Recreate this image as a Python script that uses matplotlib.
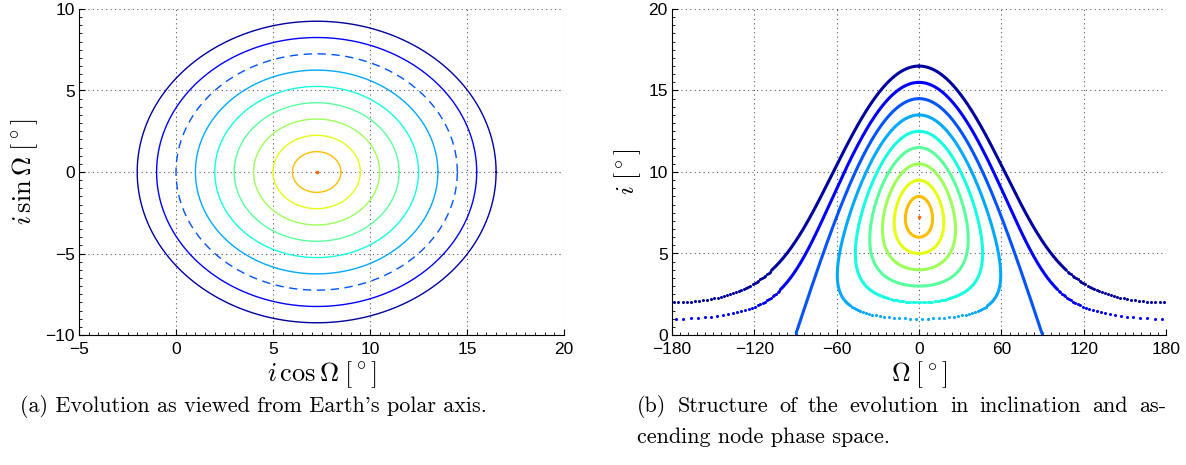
import numpy as np
import matplotlib
matplotlib.use('Agg')
import matplotlib.pyplot as plt
from matplotlib.ticker import AutoMinorLocator

# Forced equilibrium inclination (centre of all circles), degrees
center_inc = 7.25
# Radii of the free-inclination circles, outermost first
radii = [9.25, 8.25, 7.25, 6.25, 5.25, 4.25, 3.25, 2.25, 1.25]
# jet colormap positions for each circle, and for the centre point
jet_pos = [0.03, 0.12, 0.21, 0.29, 0.375, 0.46, 0.54, 0.625, 0.71]
center_pos = 0.80

left_xticks = [-5, 0, 5, 10, 15, 20]
left_yticks = [-10, -5, 0, 5, 10]
right_xticks = [-180, -120, -60, 0, 60, 120, 180]
right_yticks = [0, 5, 10, 15, 20]

caption_a = "(a) Evolution as viewed from Earth's polar axis."
caption_b1 = "(b) Structure of the evolution in inclination and as-"
caption_b2 = "cending node phase space."

plt.rcParams['mathtext.fontset'] = 'cm'
plt.rcParams['font.family'] = 'Liberation Sans'

cmap = plt.colormaps['jet']
t = np.linspace(0, 2 * np.pi, 530)

W, H = 1186, 465
fig = plt.figure(figsize=(W / 100, H / 100), dpi=100)
ax1 = fig.add_axes([79 / W, 130 / H, 485 / W, 326 / H])
ax2 = fig.add_axes([672 / W, 130 / H, 494 / W, 326 / H])

# pixel scale of the right axes, used to tell dense from sparse samples
px_x = 494 / 360
px_y = 326 / 20

for r, p in zip(radii, jet_pos):
    c = cmap(p)
    x = center_inc + r * np.cos(t)
    y = r * np.sin(t)
    if r == center_inc:
        ax1.plot(x, y, '--', color=c, lw=1.0, dashes=(6, 4))
    else:
        ax1.plot(x, y, '-', color=c, lw=1.0)

    node = np.degrees(np.arctan2(y, x))
    inc = np.hypot(x, y)
    step = np.hypot(np.diff(node) * px_x, np.diff(inc) * px_y)
    # solid line where samples are close, dots where they spread out
    ln_node = node.copy()
    gap = np.zeros(len(node), bool)
    gap[1:] = step > 2.0
    gap[:-1] |= step > 2.0
    ln_node[gap] = np.nan
    ax2.plot(ln_node, inc, '-', color=c, lw=2.2, solid_capstyle='round')
    ax2.plot(node[gap], inc[gap], 'o', color=c, ms=2.2, mew=0)

ax1.plot([center_inc], [0], 'o', color=cmap(center_pos), ms=2.6, mew=0)
ax2.plot([0], [center_inc], 'o', color=cmap(center_pos), ms=2.6, mew=0)

ax1.set_xlim(-5, 20)
ax1.set_ylim(-10, 10)
ax1.set_xticks(left_xticks)
ax1.set_yticks(left_yticks)
ax2.set_xlim(-180, 180)
ax2.set_ylim(0, 20)
ax2.set_xticks(right_xticks)
ax2.set_yticks(right_yticks)

ax1.set_xlabel(r'$i\,\cos\Omega\;[^\circ]$', fontsize=19, labelpad=2)
ax1.set_ylabel(r'$i\,\sin\Omega\;[^\circ]$', fontsize=19, labelpad=4)
ax2.set_xlabel(r'$\Omega\;[^\circ]$', fontsize=18.5, labelpad=2)
ax2.set_ylabel(r'$i\;[^\circ]$', fontsize=18.5, labelpad=4)

for ax in (ax1, ax2):
    ax.spines['top'].set_visible(False)
    ax.spines['right'].set_visible(False)
    ax.grid(True, color='0.35', linestyle=(0, (1, 3)), lw=0.8)
    ax.tick_params(direction='in', length=4, width=0.8, labelsize=12.5)
    ax.tick_params(axis='x', pad=5)
    ax.tick_params(axis='y', pad=3)
    ax.tick_params(which='minor', direction='in', length=2, width=0.6)
    ax.xaxis.set_minor_locator(AutoMinorLocator(10))
    ax.yaxis.set_minor_locator(AutoMinorLocator(10))
    ax.set_axisbelow(True)

cap_font = dict(fontsize=15.9, family=['cmr10', 'DejaVu Serif'])
fig.text(20 / W, 1 - 412 / H, caption_a, **cap_font)
fig.text(637 / W, 1 - 443 / H, caption_b2, **cap_font)

# justify the first line of caption (b) between x=637 and x=1166 px
words = caption_b1.split()
renderer = fig.canvas.get_renderer()
items = [fig.text(0, 1 - 412 / H, w_, **cap_font) for w_ in words]
widths = [it.get_window_extent(renderer).width for it in items]
space = (1166 - 637 - sum(widths)) / (len(words) - 1)
xpos = 637
for it, wd in zip(items, widths):
    it.set_x(xpos / W)
    xpos += wd + space

fig.savefig('out.png', dpi=100)
